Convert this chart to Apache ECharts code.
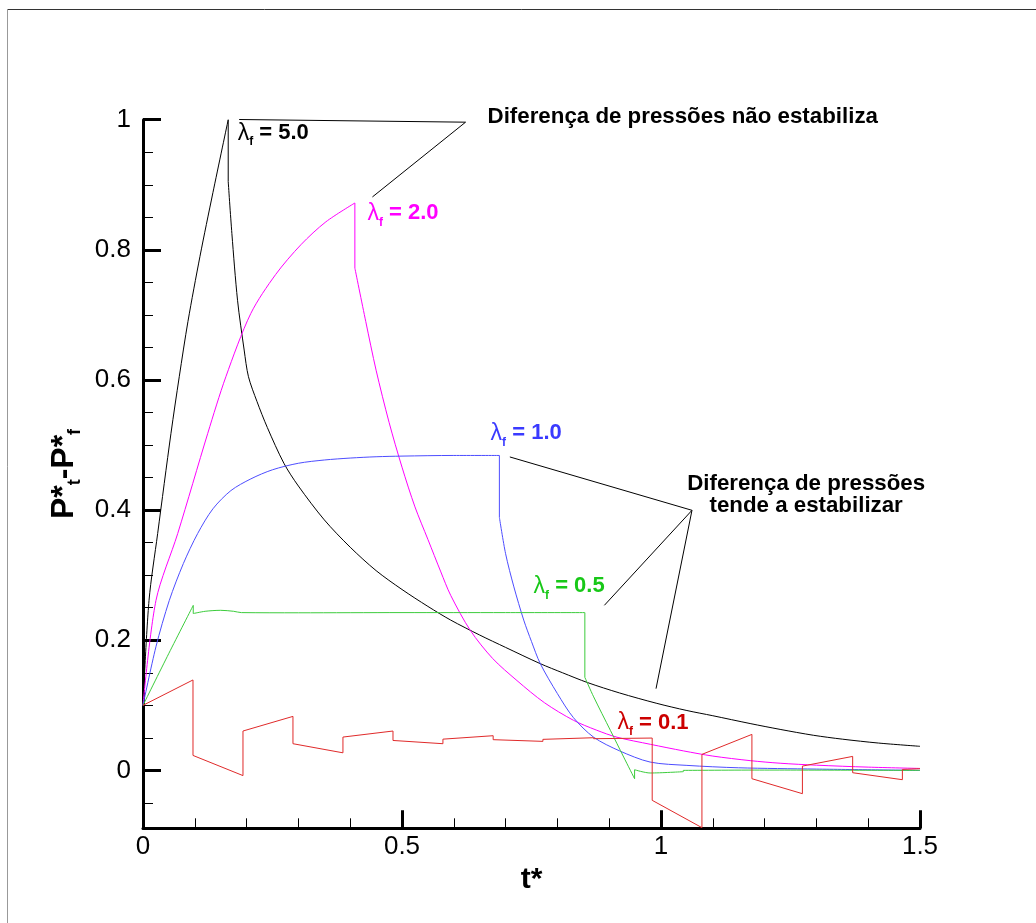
<!DOCTYPE html>
<html><head><meta charset="utf-8">
<script src="https://cdn.jsdelivr.net/npm/echarts@6/dist/echarts.min.js"></script>
<style>html,body{margin:0;padding:0;background:#fff}#c{width:1036px;height:923px}</style>
</head><body><div id="c"></div>
<script>
// ---- data (t*, P*t - P*f) ----
const lambda50 = [[0,0.1],[0.0116,0.261],[0.0283,0.364],[0.054,0.518],[0.07,0.605],[0.0868,0.69],[0.11,0.79],[0.135,0.888],[0.1645,1.0],
  [0.1645,0.905],[0.1716,0.825],[0.1825,0.7225],[0.1953,0.646],[0.2036,0.605],[0.22,0.567],[0.24,0.527],[0.272,0.472],[0.30,0.437],[0.35,0.385],[0.40,0.343],[0.45,0.307],[0.50,0.278],[0.55,0.252],[0.594,0.231],[0.65,0.208],[0.70,0.189],[0.767,0.164],[0.81,0.150],[0.858,0.135],[0.92,0.119],[0.992,0.103],[1.05,0.092],[1.10,0.084],[1.172,0.072],[1.23,0.063],[1.294,0.054],[1.35,0.048],[1.42,0.042],[1.5,0.037]];
const lambda20 = [[0,0.1],[0.025,0.261],[0.067,0.364],[0.125,0.518],[0.16,0.605],[0.208,0.702],[0.256,0.762],[0.305,0.808],[0.353,0.843],[0.409,0.872],
  [0.409,0.772],[0.43,0.69],[0.45,0.615],[0.475,0.535],[0.5,0.466],[0.525,0.405],[0.55,0.355],[0.575,0.305],[0.594,0.269],[0.632,0.215],[0.675,0.172],[0.722,0.138],[0.775,0.104],[0.831,0.077],[0.875,0.062],[0.915,0.051],[0.98,0.040],[1.043,0.030],[1.1,0.022],[1.172,0.015],[1.23,0.011],[1.30,0.008],[1.4,0.005],[1.5,0.003]];
const lambda10 = [[0,0.1],[0.025,0.19],[0.0507,0.261],[0.078,0.318],[0.1055,0.364],[0.135,0.402],[0.1697,0.43],[0.2082,0.448],[0.25,0.462],[0.30,0.472],[0.35,0.477],[0.40,0.480],[0.45,0.482],[0.5,0.483],[0.6,0.484],[0.688,0.484],
  [0.688,0.389],[0.700,0.333],[0.716,0.282],[0.735,0.231],[0.75,0.198],[0.767,0.164],[0.80,0.118],[0.831,0.081],[0.87,0.051],[0.92,0.030],[0.979,0.0128],[1.05,0.0077],[1.15,0.004],[1.3,0.002],[1.5,0.0]];
const lambda05 = [[0,0.1],[0.05,0.18],[0.097,0.2536],[0.097,0.241],[0.12,0.2445],[0.15,0.246],[0.175,0.2445],[0.19,0.2425],[0.30,0.2422],[0.5,0.2425],[0.7,0.2425],[0.853,0.2425],
  [0.853,0.143],[0.870,0.113],[0.9023,0.0615],[0.928,0.0204],[0.949,-0.0128],[0.949,0.001],[0.979,-0.004],[1.043,-0.002],[1.043,0.0],[1.2,0.0005],[1.5,0.0]];
const lambda01 = [[0,0.1],[0.0965,0.139],[0.0965,0.023],[0.193,-0.008],[0.193,0.0605],[0.2895,0.083],[0.2895,0.041],[0.386,0.027],[0.386,0.0512],[0.4826,0.0605],[0.4826,0.046],[0.579,0.041],[0.579,0.048],[0.676,0.0533],[0.676,0.0472],[0.772,0.0446],[0.772,0.0477],[0.870,0.0502],[0.870,0.0487],[0.983,0.0497],
  [0.983,-0.046],[1.079,-0.088],[1.079,0.0246],[1.1755,0.0553],[1.1755,-0.0128],[1.273,-0.0358],[1.273,0.0066],[1.37,0.0215],[1.37,-0.0036],[1.466,-0.0143],[1.466,0.0015],[1.5,0.0026]];

// axis ticks
const xMin = 0, xMax = 1.5, xStep = 0.5;
const yMin = -0.089, yMax = 1;
const yMajorTicks = [0, 0.2, 0.4, 0.6, 0.8, 1];
const yMinorTicks = [-0.05, 0.05, 0.1, 0.15, 0.25, 0.3, 0.35, 0.45, 0.5, 0.55, 0.65, 0.7, 0.75, 0.85, 0.9, 0.95];

// annotations (data coordinates)
const calloutTop = [[0.1856,1.0003],[0.6227,0.9962],[0.4429,0.8813]];
const calloutMidA = [[0.7082,0.4817],[1.0598,0.3997],[0.8907,0.2537]];
const calloutMidB = [[1.0598,0.3997],[0.9904,0.1256]];
const lambdaLabels = [
  {val:'5.0', color:'#000000', at:[0.1827,0.9793]},
  {val:'2.0', color:'#ff00ff', at:[0.4332,0.8563]},
  {val:'1.0', color:'#3a3aff', at:[0.6710,0.5181]},
  {val:'0.5', color:'#18c818', at:[0.7539,0.2829]},
  {val:'0.1', color:'#cc0000', at:[0.9158,0.0730]}
];
const noteTop = {text:'Diferença de pressões não estabiliza', at:[0.6652,1.0038]};
const noteMid = {text:'Diferença de pressões\ntende a estabilizar', at:[1.2802,0.4228]};

const FF = '"Liberation Sans", Arial, sans-serif';
const chart = echarts.init(document.getElementById('c'));

function lineSeries(data, color, clip, smooth) {
  return {type:'line', data, showSymbol:false, symbol:'none', animation:false, clip: clip,
    smooth: smooth ? 0.3 : false,
    lineStyle:{color, width:1}, emphasis:{disabled:true}, z: 3};
}
// split a curve at its vertical jumps so the curved parts can be smoothed
function curveSeries(data, color) {
  const out = [];
  let cur = [data[0]];
  for (let i = 1; i < data.length; i++) {
    if (data[i][0] === data[i-1][0]) {
      out.push(lineSeries(cur, color, true, cur.length > 2));
      out.push(lineSeries([data[i-1], data[i]], color, true, false));
      cur = [data[i]];
    } else cur.push(data[i]);
  }
  out.push(lineSeries(cur, color, true, cur.length > 2));
  return out;
}

chart.setOption({
  animation:false,
  backgroundColor:'#fff',
  grid:{left:143, right:116, top:119.7, bottom:94.7, containLabel:false},
  xAxis:{type:'value', min:xMin, max:xMax, interval:xStep,
    axisLine:{onZero:false, lineStyle:{color:'#000', width:3}},
    axisTick:{inside:true, length:18, lineStyle:{color:'#000', width:3}},
    minorTick:{show:true, splitNumber:5, length:10, lineStyle:{color:'#000', width:1}},
    splitLine:{show:false}, minorSplitLine:{show:false},
    axisLabel:{color:'#000', fontSize:26, fontFamily:FF, margin:6},
    name:'t*', nameLocation:'middle', nameGap:35,
    nameTextStyle:{color:'#000', fontSize:30, fontWeight:'bold', fontFamily:FF}
  },
  yAxis:[{type:'value', min:yMin, max:yMax,
    axisLine:{show:true, onZero:false, lineStyle:{color:'#000', width:3}},
    axisTick:{show:true, inside:true, length:18, customValues:yMajorTicks, lineStyle:{color:'#000', width:3}},
    axisLabel:{color:'#000', fontSize:26, fontFamily:FF, margin:12, customValues:yMajorTicks},
    splitLine:{show:false},
    name:'{b|P*}{s|t}{b|-P*}{s|f}', nameLocation:'middle', nameRotate:90, nameGap:53,
    nameTextStyle:{color:'#000', fontFamily:FF, fontWeight:'bold', fontSize:32,
      rich:{b:{fontSize:32, fontWeight:'bold', fontFamily:FF, color:'#000', lineHeight:40},
            s:{fontSize:18, fontWeight:'bold', fontFamily:FF, color:'#000', lineHeight:10, verticalAlign:'bottom'}}}
  },{type:'value', min:yMin, max:yMax, position:'left',
    axisLine:{show:false, onZero:false},
    axisTick:{show:true, inside:true, length:10, customValues:yMinorTicks, lineStyle:{color:'#000', width:1}},
    axisLabel:{show:false}, splitLine:{show:false}
  }],
  series:[].concat(
    curveSeries(lambda50, '#000000'),
    curveSeries(lambda20, '#ff00ff'),
    curveSeries(lambda10, '#4d4dff'),
    curveSeries(lambda05, '#3ccc3c'),
    curveSeries(lambda01, '#e02a2a'),
    [lineSeries(calloutTop, '#000000', false, false),
     lineSeries(calloutMidA, '#000000', false, false),
     lineSeries(calloutMidB, '#000000', false, false)]
  )
});

const toPx = (p) => chart.convertToPixel({xAxisIndex:0, yAxisIndex:0}, p);
const graphics = [
  {type:'line', shape:{x1:7.5, y1:9.5, x2:1036, y2:9.5}, style:{stroke:'#333', lineWidth:1}, silent:true},
  {type:'line', shape:{x1:7.5, y1:9.5, x2:7.5, y2:923}, style:{stroke:'#999', lineWidth:1}, silent:true}
];
lambdaLabels.forEach(l => {
  const [x, y] = toPx(l.at);
  graphics.push({type:'text', x, y, silent:true, style:{
    text:'{l|λ}{s|f}{b| = ' + l.val + '}', align:'left', verticalAlign:'middle', fill:l.color,
    rich:{l:{fontSize:23, fontFamily:FF, fill:l.color, lineHeight:30},
          s:{fontSize:12, fontWeight:'bold', fontFamily:FF, fill:l.color, lineHeight:10, verticalAlign:'bottom'},
          b:{fontSize:22, fontWeight:'bold', fontFamily:FF, fill:l.color, lineHeight:30}}}});
});
{
  const [x, y] = toPx(noteTop.at);
  graphics.push({type:'text', x, y, silent:true, style:{text:noteTop.text, font:'bold 22.3px ' + FF, fill:'#000', align:'left', verticalAlign:'middle'}});
}
{
  const [x, y] = toPx(noteMid.at);
  graphics.push({type:'text', x, y, silent:true, style:{text:noteMid.text, font:'bold 22.3px ' + FF, fill:'#000', align:'center', verticalAlign:'middle', lineHeight:22}});
}
chart.setOption({graphic:graphics});
</script></body></html>
